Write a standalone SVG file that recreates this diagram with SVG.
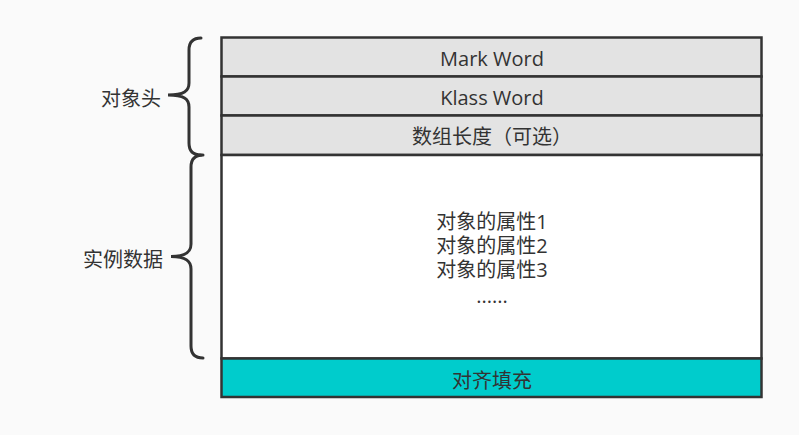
<svg xmlns="http://www.w3.org/2000/svg" width="799" height="435" viewBox="0 0 799 435">
<style>
text{font-family:"Open Sans","Noto Sans CJK SC",sans-serif;font-size:20px;fill:#333333;text-anchor:middle}
.lbl{text-anchor:end}
.cell{stroke:#333333;stroke-width:2.5}
.brace{fill:none;stroke:#333333;stroke-width:3;stroke-linecap:round}
</style>
<rect width="799" height="435" fill="#fafafa"/>
<g id="mark-word">
<rect class="cell" x="221.5" y="37.5" width="540" height="39" fill="#e3e3e3"/>
<text x="492" y="66">Mark Word</text>
</g>
<g id="klass-word">
<rect class="cell" x="221.5" y="76.5" width="540" height="39" fill="#e3e3e3"/>
<text x="492" y="105">Klass Word</text>
</g>
<g id="array-length">
<rect class="cell" x="221.5" y="115.5" width="540" height="39.5" fill="#e3e3e3"/>
<text x="492" y="144">数组长度（可选）</text>
</g>
<g id="instance-data">
<rect class="cell" x="221.5" y="155" width="540" height="203.5" fill="#ffffff"/>
<text x="492" y="229"><tspan x="492" y="229">对象的属性1</tspan><tspan x="492" y="253">对象的属性2</tspan><tspan x="492" y="277">对象的属性3</tspan><tspan x="492" y="303">......</tspan></text>
</g>
<g id="padding">
<rect class="cell" x="221.5" y="358.5" width="540" height="38.5" fill="#00cccc"/>
<text x="492" y="388">对齐填充</text>
</g>
<g id="header-brace">
<path class="brace" d="M201,38 C193,38 189,42 189,50 L189,83 C189,91 184,95 168,95 C184,95 189,99 189,107 L189,143 C189,151 193,155 201,155"/>
<text class="lbl" x="161" y="106">对象头</text>
</g>
<g id="data-brace">
<path class="brace" d="M203,155 C195,155 191,159 191,167 L191,244 C191,252 186,256.5 171,256.5 C186,256.5 191,261 191,269 L191,346 C191,354 195,358 203,358"/>
<text class="lbl" x="163" y="267">实例数据</text>
</g>
</svg>
